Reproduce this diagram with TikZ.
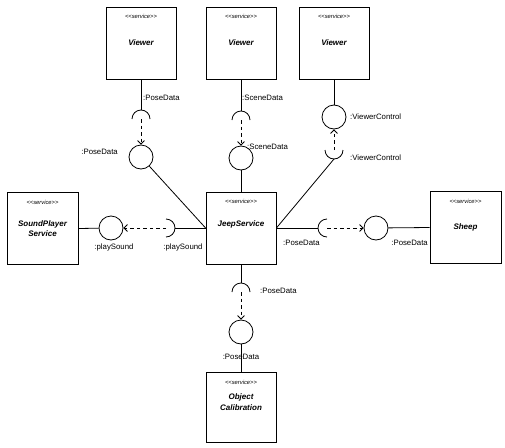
\documentclass[tikz,border=0pt]{standalone}
\usepackage{fontspec}
\setmainfont{Liberation Sans}
\usetikzlibrary{arrows.meta}
\newcommand{\stereotxt}{<\kern0pt<service>\kern0pt>}
\begin{document}
\begin{tikzpicture}[x=1pt,y=-1pt,
 box/.style={draw,line width=0.8pt,minimum width=70pt,minimum height=72pt,inner sep=0},
 iface/.style={draw,circle,line width=0.8pt,minimum size=24pt,inner sep=0},
 conn/.style={line width=0.8pt},
 dep/.style={line width=0.8pt,dash pattern=on 3.5pt off 3pt,-{Straight Barb[length=3.5pt,width=7pt]}},
 lbl/.style={font=\fontsize{7.8}{9}\selectfont,inner sep=0},
 stereo/.style={font=\fontsize{5.8}{7}\selectfont\itshape,inner sep=0},
 nm/.style={font=\fontsize{8}{10.5}\selectfont\bfseries\itshape,align=center,inner sep=0}]
\useasboundingbox (0,0) rectangle (505,447);
\fill[white] (0,0) rectangle (505,447);
% boxes
\node[box] (v1) at (141,43) {};
\node[box] (v2) at (241,43) {};
\node[box] (v3) at (334,43) {};
\node[box] (jeep) at (241,228) {};
\node[box,minimum width=71pt] (snd) at (42.5,228.5) {};
\node[box,minimum width=71pt] (sheep) at (465.5,227.5) {};
\node[box,minimum height=70pt] (cal) at (241,407) {};
% box texts
\node[stereo] (v1s) at (141,16) {\stereotxt};
\node[nm] (v1n) at (141,43) {Viewer};
\node[stereo] (v2s) at (241,16) {\stereotxt};
\node[nm] (v2n) at (241,43) {Viewer};
\node[stereo] (v3s) at (334,16) {\stereotxt};
\node[nm] (v3n) at (334,43) {Viewer};
\node[stereo] (js) at (241,201) {\stereotxt};
\node[nm] (jn) at (241,224) {JeepService};
\node[stereo] (ss) at (42.5,202) {\stereotxt};
\node[nm] (sn) at (42.5,228.5) {SoundPlayer\\Service};
\node[stereo] (hs) at (465.5,201) {\stereotxt};
\node[nm] (hn) at (465.5,227) {Sheep};
\node[stereo] (cs) at (241,382) {\stereotxt};
\node[nm] (cn) at (241,402) {Object\\Calibration};
% interfaces (lollipops) and sockets
\node[iface] (c1) at (141,157) {};
\node[iface] (c2) at (241,158) {};
\node[iface] (c3) at (334,117) {};
\node[iface] (c4) at (111,228) {};
\node[iface] (c5) at (376,228) {};
\node[iface] (c6) at (241,332) {};
\coordinate (k1) at (141,119); \coordinate (k1t) at (141,110);
\coordinate (k2) at (241,120); \coordinate (k2t) at (241,111);
\coordinate (k3) at (334,150); \coordinate (k3b) at (334,159);
\coordinate (k4) at (166,228); \coordinate (k4r) at (175,228);
\coordinate (k5) at (327,228); \coordinate (k5l) at (318,228);
\coordinate (k6) at (241,292); \coordinate (k6t) at (241,283);
% Viewer 1
\draw[conn] (v1.south) -- (k1t);
\draw[conn] (k1) ++(9pt,0) arc[start angle=0,end angle=180,radius=9pt];
\draw[dep] (k1) -- (c1.north);
\draw[conn] (c1) -- (jeep.west);
% Viewer 2
\draw[conn] (v2.south) -- (k2t);
\draw[conn] (k2) ++(9pt,0) arc[start angle=0,end angle=180,radius=9pt];
\draw[dep] (k2) -- (c2.north);
\draw[conn] (c2) -- (jeep.north);
% Viewer 3
\draw[conn] (v3.south) -- (c3);
\draw[conn] (k3) ++(-9pt,0) arc[start angle=180,end angle=360,radius=9pt];
\draw[dep] (k3) -- (c3.south);
\draw[conn] (k3b) -- (jeep.east);
% Sound
\draw[conn] (snd.east) -- (c4);
\draw[conn] (k4) ++(0,-9pt) arc[start angle=-90,end angle=90,radius=9pt];
\draw[dep] (k4) -- (c4.east);
\draw[conn] (k4r) -- (jeep.west);
% Sheep
\draw[conn] (jeep.east) -- (k5l);
\draw[conn] (k5) ++(0,9pt) arc[start angle=90,end angle=270,radius=9pt];
\draw[dep] (k5) -- (c5.west);
\draw[conn] (c5) -- (sheep.west);
% Calibration
\draw[conn] (jeep.south) -- (k6t);
\draw[conn] (k6) ++(9pt,0) arc[start angle=0,end angle=180,radius=9pt];
\draw[dep] (k6) -- (c6.north);
\draw[conn] (c6) -- (cal.north);
% labels
\node[lbl,anchor=west] (l1) at (143,98) {:PoseData};
\node[lbl,anchor=east] (l2) at (118,152) {:PoseData};
\node[lbl,anchor=west] (l3) at (242,98) {:SceneData};
\node[lbl,anchor=west] (l4) at (247,147) {:SceneData};
\node[lbl,anchor=west] (l5) at (350,117) {:ViewerControl};
\node[lbl,anchor=west] (l6) at (350,158) {:ViewerControl};
\node[lbl] (l7) at (114,247) {:playSound};
\node[lbl] (l8) at (183,247) {:playSound};
\node[lbl,anchor=west] (l9) at (283,243) {:PoseData};
\node[lbl,anchor=east] (l10) at (428,243) {:PoseData};
\node[lbl,anchor=west] (l11) at (260,291) {:PoseData};
\node[lbl] (l12) at (241,357) {:PoseData};
\end{tikzpicture}
\end{document}
